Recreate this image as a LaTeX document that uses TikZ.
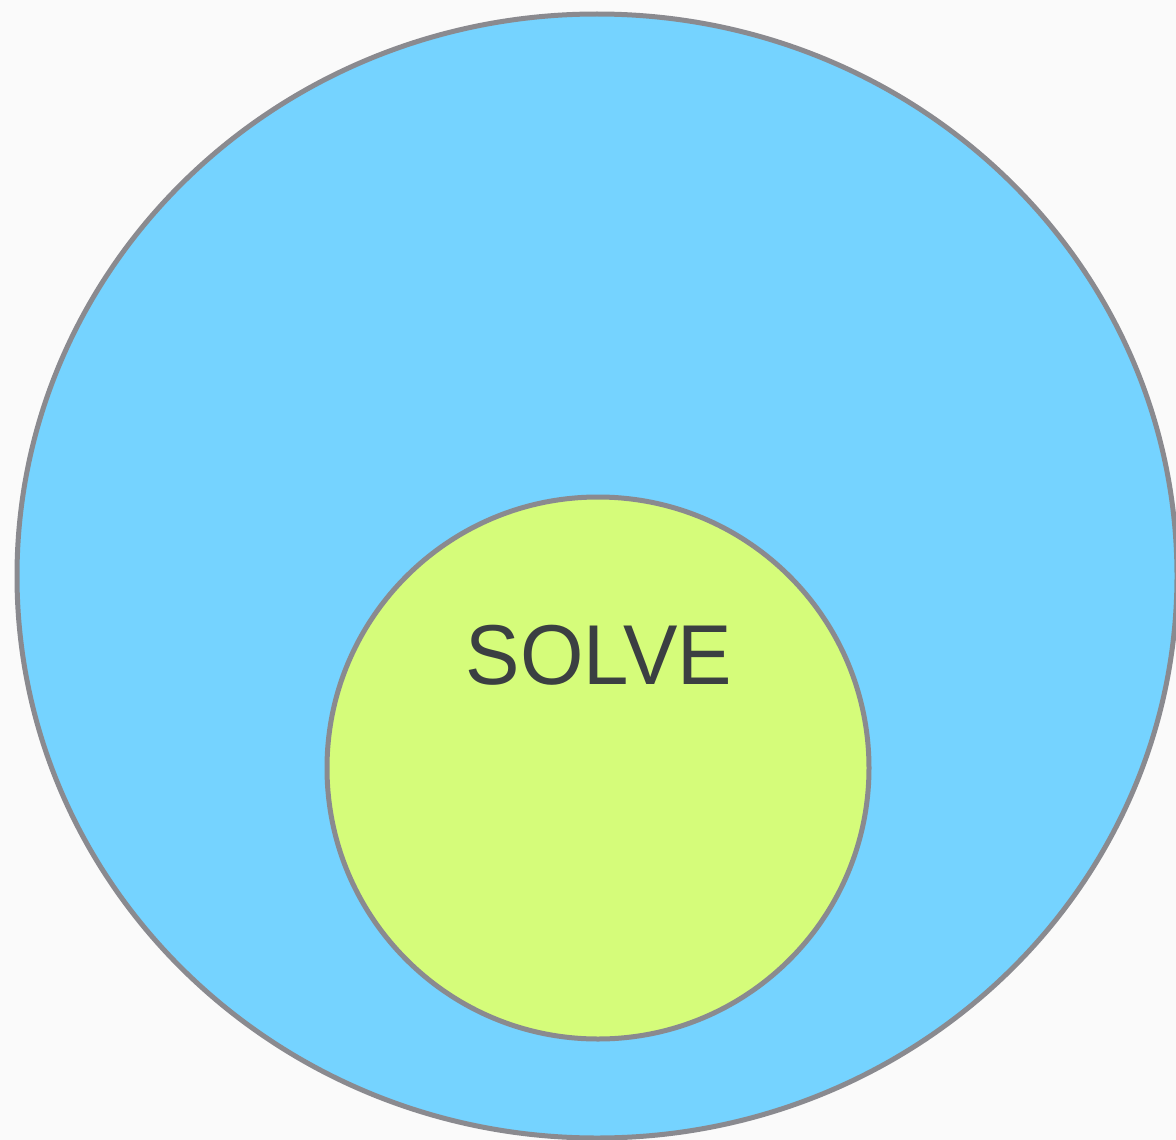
\documentclass[tikz,border=0pt]{standalone}
\usepackage{fontspec}
\setsansfont{Liberation Sans}
\usetikzlibrary{shapes.geometric}
\definecolor{paper}{HTML}{FAFAFA}
\definecolor{rim}{HTML}{8A8A8F}
\definecolor{sky}{HTML}{75D3FF}
\definecolor{lime}{HTML}{D5FC7A}
\definecolor{ink}{HTML}{3B3F42}
\tikzset{
  font=\sffamily,
  %
  outer/.style={ellipse, draw=rim, line width=5pt, fill=sky, inner sep=0pt},
  inner/.style={circle, draw=rim, line width=5pt, fill=lime, inner sep=0pt},
  word/.style={text=ink, font=\sffamily\fontsize{85}{92}\selectfont, inner sep=0pt},
}
\begin{document}
\begin{tikzpicture}[x=1pt, y=-1pt]

% ------------------------------------------------------------- page
\fill[paper] (0,0) rectangle (1176,1140);
\useasboundingbox (0,0) rectangle (1176,1140);

% ------------------------------------------------------------ circles
\node[outer, minimum width=1160pt, minimum height=1124pt] (space) at (597,576) {};
\node[inner, minimum size=542pt] (solve) at (598,768) {};

\node[word, anchor=base, xscale=0.96] (label) at (599,684) {SOLVE};

\end{tikzpicture}
\end{document}
